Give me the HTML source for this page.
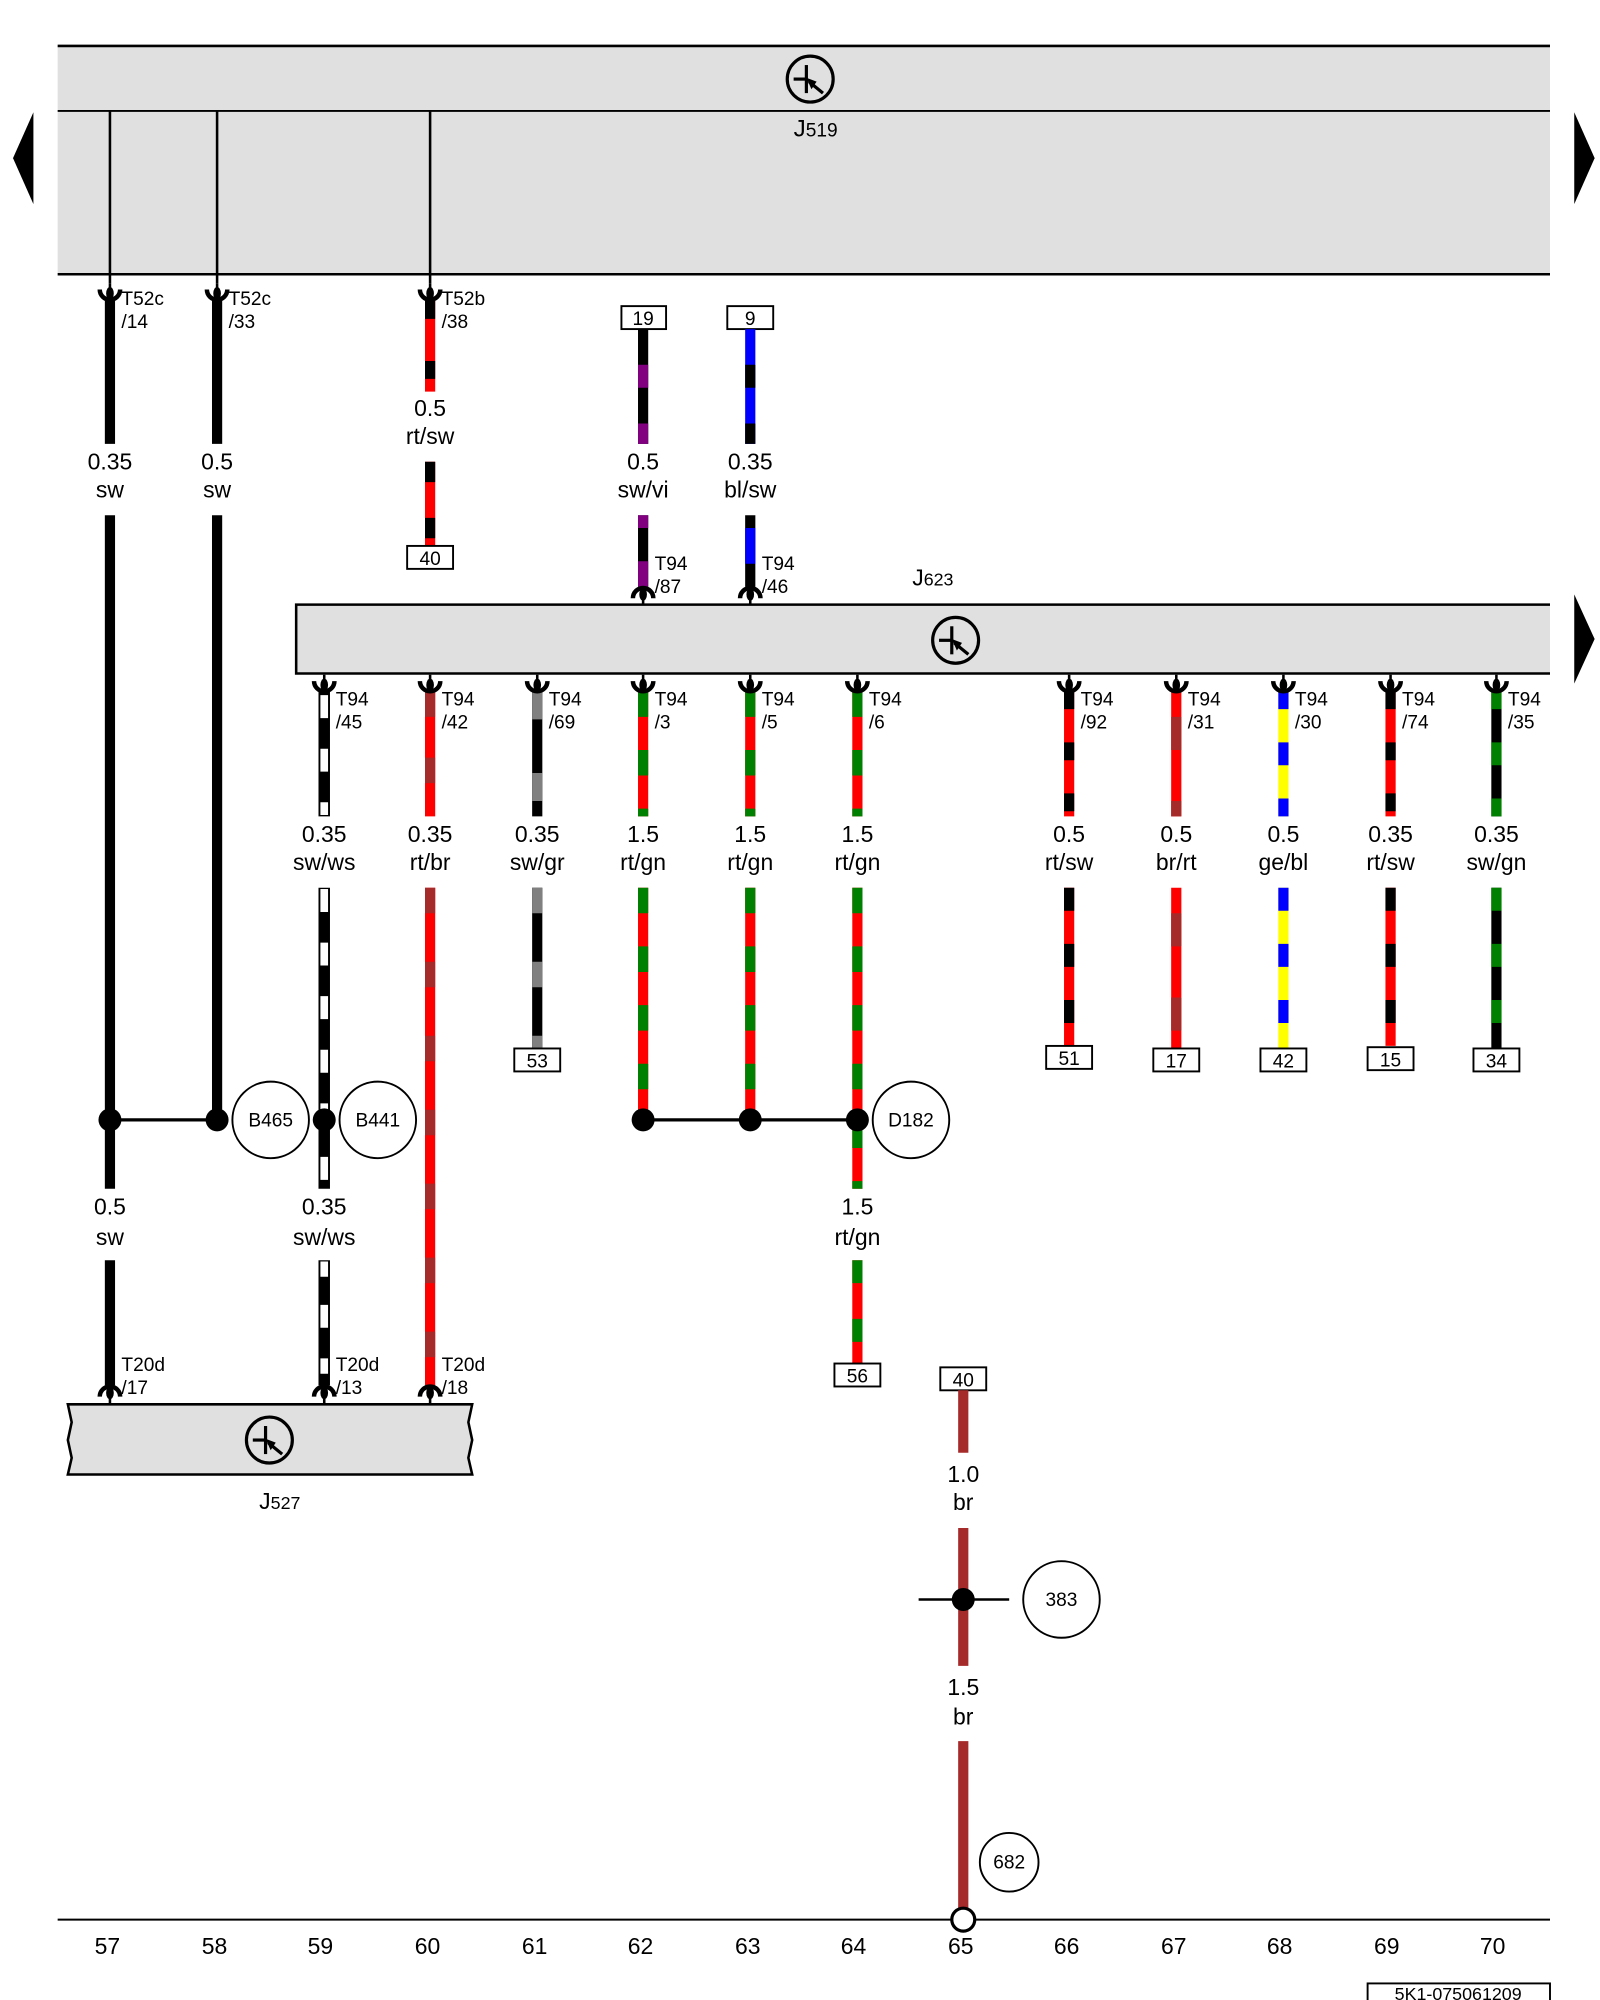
<!DOCTYPE html>
<html><head><meta charset="utf-8"><style>
html,body{margin:0;padding:0;background:#fff;}
svg{display:block;}
text{font-family:"Liberation Sans",sans-serif;fill:#000;}
.lb{font-size:18px;text-anchor:middle;}
.cn{font-size:15px;}
.bx{font-size:15px;text-anchor:middle;}
.cr{font-size:15px;text-anchor:middle;}
.w{stroke-width:8;fill:none;}
.d{stroke-dasharray:20 26;}
</style></head><body>
<svg width="1600" height="2000" viewBox="0 0 1254 1568" xmlns="http://www.w3.org/2000/svg">
<defs>
<g id="sym"><circle cx="0" cy="0" r="18" fill="none" stroke="#000" stroke-width="2.5"/><line x1="-13" y1="0" x2="-3" y2="0" stroke="#000" stroke-width="2.5"/><line x1="-3" y1="-11" x2="-3" y2="11" stroke="#000" stroke-width="2.5"/><line x1="-1" y1="2" x2="10" y2="11" stroke="#000" stroke-width="2.5"/><polygon points="-3,-1 5,2 1,8" fill="#000"/></g>
<g id="cu"><path d="M-8,-9 A8,8 0 0 0 8,-9" fill="none" stroke="#000" stroke-width="3.5"/><ellipse cx="0" cy="-6" rx="3" ry="5" fill="#000"/><rect x="-1" y="-14" width="2" height="6" fill="#000"/></g>
<g id="cd"><path d="M-8,9 A8,8 0 0 1 8,9" fill="none" stroke="#000" stroke-width="3.5"/><ellipse cx="0" cy="6" rx="3" ry="5" fill="#000"/><rect x="-1" y="8" width="2" height="6" fill="#000"/></g>
</defs>

<!-- J519 -->
<rect x="45" y="36" width="1170" height="179" fill="#e0e0e0"/>
<line x1="45" y1="36" x2="1215" y2="36" stroke="#000" stroke-width="2"/>
<line x1="45" y1="87" x2="1215" y2="87" stroke="#000" stroke-width="1.5"/>
<line x1="45" y1="215" x2="1215" y2="215" stroke="#000" stroke-width="2"/>
<use href="#sym" x="635" y="62"/>
<text x="622" y="107" style="font-size:19px">J<tspan style="font-size:15px">519</tspan></text>
<polygon points="26,88 26,160 10,124" fill="#000"/>
<polygon points="1234,88 1234,160 1250,124" fill="#000"/>
<polygon points="1234,466 1234,536 1250,501" fill="#000"/>
<line x1="86" y1="87" x2="86" y2="222" stroke="#000" stroke-width="2"/>
<line x1="170" y1="87" x2="170" y2="222" stroke="#000" stroke-width="2"/>
<line x1="337" y1="87" x2="337" y2="222" stroke="#000" stroke-width="2"/>

<!-- top wires -->
<line class="w" x1="86" y1="233" x2="86" y2="348" stroke="#000"/>
<line class="w" x1="86" y1="404" x2="86" y2="932" stroke="#000"/>
<line class="w" x1="86" y1="988" x2="86" y2="1086" stroke="#000"/>
<line class="w" x1="170" y1="233" x2="170" y2="348" stroke="#000"/>
<line class="w" x1="170" y1="404" x2="170" y2="878" stroke="#000"/>
<use href="#cu" x="86" y="236"/><use href="#cu" x="170" y="236"/><use href="#cu" x="337" y="236"/>
<text class="cn" x="95" y="239">T52c</text><text class="cn" x="95" y="257">/14</text>
<text class="cn" x="179" y="239">T52c</text><text class="cn" x="179" y="257">/33</text>
<text class="cn" x="346" y="239">T52b</text><text class="cn" x="346" y="257">/38</text>
<text class="lb" x="86" y="368">0.35</text><text class="lb" x="86" y="390">sw</text>
<text class="lb" x="170" y="368">0.5</text><text class="lb" x="170" y="390">sw</text>
<text class="lb" x="86" y="952">0.5</text><text class="lb" x="86" y="976">sw</text>

<line class="w" x1="337" y1="236" x2="337" y2="307" stroke="#f00"/>
<line class="w" x1="337" y1="236" x2="337" y2="307" stroke="#000" style="stroke-dasharray:14 33 14 40"/>
<line class="w" x1="337" y1="362" x2="337" y2="428" stroke="#f00"/>
<line class="w" x1="337" y1="362" x2="337" y2="428" stroke="#000" style="stroke-dasharray:16 28"/>
<text class="lb" x="337" y="326">0.5</text><text class="lb" x="337" y="348">rt/sw</text>
<rect x="319" y="428" width="36" height="18" fill="#fff" stroke="#000" stroke-width="1.5"/><text class="bx" x="337" y="443">40</text>

<rect x="487" y="240" width="35" height="18" fill="#fff" stroke="#000" stroke-width="1.5"/><text class="bx" x="504" y="255">19</text>
<line class="w" x1="504" y1="258" x2="504" y2="348" stroke="#000"/>
<line class="w" x1="504" y1="258" x2="504" y2="348" stroke="#800080" style="stroke-dasharray:0 28 18 28 18 40"/>
<line class="w" x1="504" y1="404" x2="504" y2="460" stroke="#000"/>
<line class="w" x1="504" y1="404" x2="504" y2="460" stroke="#800080" style="stroke-dasharray:10 26 20 40"/>
<text class="lb" x="504" y="368">0.5</text><text class="lb" x="504" y="390">sw/vi</text>
<rect x="570" y="240" width="36" height="18" fill="#fff" stroke="#000" stroke-width="1.5"/><text class="bx" x="588" y="255">9</text>
<line class="w" x1="588" y1="258" x2="588" y2="348" stroke="#00f"/>
<line class="w" x1="588" y1="258" x2="588" y2="348" stroke="#000" style="stroke-dasharray:0 28 18 28 18 40"/>
<line class="w" x1="588" y1="404" x2="588" y2="460" stroke="#000"/>
<line class="w" x1="588" y1="404" x2="588" y2="460" stroke="#00f" style="stroke-dasharray:0 10 28 40"/>
<text class="lb" x="588" y="368">0.35</text><text class="lb" x="588" y="390">bl/sw</text>
<use href="#cd" x="504" y="460"/><use href="#cd" x="588" y="460"/>
<text class="cn" x="513" y="447">T94</text><text class="cn" x="513" y="465">/87</text>
<text class="cn" x="597" y="447">T94</text><text class="cn" x="597" y="465">/46</text>
<text x="715" y="459" style="font-size:18px">J<tspan style="font-size:14px">623</tspan></text>

<!-- J623 -->
<rect x="232" y="474" width="983" height="54" fill="#e0e0e0"/>
<path d="M1215,474 H232 V528 H1215" fill="none" stroke="#000" stroke-width="2"/>
<use href="#sym" x="749" y="502"/>

<!-- sw/ws 254 -->
<g stroke="#000">
<line x1="254" y1="542" x2="254" y2="640" stroke-width="9"/>
<line x1="254" y1="696" x2="254" y2="932" stroke-width="9"/>
<line x1="254" y1="988" x2="254" y2="1086" stroke-width="9"/>
</g>
<g stroke="#fff" stroke-width="6" style="stroke-dasharray:18 24">
<line x1="254" y1="545" x2="254" y2="639"/>
<line x1="254" y1="697" x2="254" y2="931"/>
<line x1="254" y1="989" x2="254" y2="1085" style="stroke-dasharray:12 22 18 24"/>
</g>
<!-- rt/br 337 -->
<line class="w" x1="337" y1="542" x2="337" y2="640" stroke="#f00"/>
<line class="w" x1="337" y1="542" x2="337" y2="640" stroke="#a52a2a" style="stroke-dasharray:20 32"/>
<line class="w" x1="337" y1="696" x2="337" y2="1086" stroke="#f00"/>
<line class="w" x1="337" y1="696" x2="337" y2="1086" stroke="#a52a2a" style="stroke-dasharray:20 38"/>
<!-- sw/gr 421 -->
<line class="w" x1="421" y1="542" x2="421" y2="640" stroke="#000"/>
<line class="w" x1="421" y1="542" x2="421" y2="640" stroke="#808080" style="stroke-dasharray:22 42"/>
<line class="w" x1="421" y1="696" x2="421" y2="822" stroke="#000"/>
<line class="w" x1="421" y1="696" x2="421" y2="822" stroke="#808080" style="stroke-dasharray:20 38"/>
<rect x="403" y="822" width="36" height="18" fill="#fff" stroke="#000" stroke-width="1.5"/><text class="bx" x="421" y="837">53</text>
<!-- rt/gn -->
<g class="w">
<line x1="504" y1="542" x2="504" y2="640" stroke="#f00"/><line x1="504" y1="542" x2="504" y2="640" stroke="#008000" class="d"/>
<line x1="504" y1="696" x2="504" y2="878" stroke="#f00"/><line x1="504" y1="696" x2="504" y2="878" stroke="#008000" style="stroke-dasharray:20 26"/>
<line x1="588" y1="542" x2="588" y2="640" stroke="#f00"/><line x1="588" y1="542" x2="588" y2="640" stroke="#008000" class="d"/>
<line x1="588" y1="696" x2="588" y2="878" stroke="#f00"/><line x1="588" y1="696" x2="588" y2="878" stroke="#008000" style="stroke-dasharray:20 26"/>
<line x1="672" y1="542" x2="672" y2="640" stroke="#f00"/><line x1="672" y1="542" x2="672" y2="640" stroke="#008000" class="d"/>
<line x1="672" y1="696" x2="672" y2="932" stroke="#f00"/><line x1="672" y1="696" x2="672" y2="932" stroke="#008000" style="stroke-dasharray:20 26"/>
<line x1="672" y1="988" x2="672" y2="1069" stroke="#f00"/><line x1="672" y1="988" x2="672" y2="1069" stroke="#008000" style="stroke-dasharray:18 28"/>
</g>
<rect x="654" y="1069" width="36" height="18" fill="#fff" stroke="#000" stroke-width="1.5"/><text class="bx" x="672" y="1084">56</text>
<!-- right columns -->
<g class="w">
<line x1="838" y1="542" x2="838" y2="640" stroke="#f00"/><line x1="838" y1="542" x2="838" y2="640" stroke="#000" style="stroke-dasharray:14 26"/>
<line x1="838" y1="696" x2="838" y2="820" stroke="#f00"/><line x1="838" y1="696" x2="838" y2="820" stroke="#000" style="stroke-dasharray:18 26"/>
<line x1="922" y1="542" x2="922" y2="640" stroke="#f00"/><line x1="922" y1="542" x2="922" y2="640" stroke="#a52a2a" style="stroke-dasharray:0 20 26 20"/>
<line x1="922" y1="696" x2="922" y2="822" stroke="#f00"/><line x1="922" y1="696" x2="922" y2="822" stroke="#a52a2a" style="stroke-dasharray:0 20 26 20"/>
<line x1="1006" y1="542" x2="1006" y2="640" stroke="#ff0"/><line x1="1006" y1="542" x2="1006" y2="640" stroke="#00f" style="stroke-dasharray:14 26 18 26"/>
<line x1="1006" y1="696" x2="1006" y2="822" stroke="#ff0"/><line x1="1006" y1="696" x2="1006" y2="822" stroke="#00f" style="stroke-dasharray:18 26"/>
<line x1="1090" y1="542" x2="1090" y2="640" stroke="#f00"/><line x1="1090" y1="542" x2="1090" y2="640" stroke="#000" style="stroke-dasharray:14 26"/>
<line x1="1090" y1="696" x2="1090" y2="820" stroke="#f00"/><line x1="1090" y1="696" x2="1090" y2="820" stroke="#000" style="stroke-dasharray:18 26"/>
<line x1="1173" y1="542" x2="1173" y2="640" stroke="#000"/><line x1="1173" y1="542" x2="1173" y2="640" stroke="#008000" style="stroke-dasharray:14 26 18 26"/>
<line x1="1173" y1="696" x2="1173" y2="822" stroke="#000"/><line x1="1173" y1="696" x2="1173" y2="822" stroke="#008000" style="stroke-dasharray:18 26"/>
</g>

<!-- bottom J623 connectors -->
<g>
<use href="#cu" x="254" y="543"/><use href="#cu" x="337" y="543"/><use href="#cu" x="421" y="543"/><use href="#cu" x="504" y="543"/><use href="#cu" x="588" y="543"/><use href="#cu" x="672" y="543"/><use href="#cu" x="838" y="543"/><use href="#cu" x="922" y="543"/><use href="#cu" x="1006" y="543"/><use href="#cu" x="1090" y="543"/><use href="#cu" x="1173" y="543"/>
</g>
<text class="cn" x="263" y="553">T94</text><text class="cn" x="263" y="571">/45</text>
<text class="cn" x="346" y="553">T94</text><text class="cn" x="346" y="571">/42</text>
<text class="cn" x="430" y="553">T94</text><text class="cn" x="430" y="571">/69</text>
<text class="cn" x="513" y="553">T94</text><text class="cn" x="513" y="571">/3</text>
<text class="cn" x="597" y="553">T94</text><text class="cn" x="597" y="571">/5</text>
<text class="cn" x="681" y="553">T94</text><text class="cn" x="681" y="571">/6</text>
<text class="cn" x="847" y="553">T94</text><text class="cn" x="847" y="571">/92</text>
<text class="cn" x="931" y="553">T94</text><text class="cn" x="931" y="571">/31</text>
<text class="cn" x="1015" y="553">T94</text><text class="cn" x="1015" y="571">/30</text>
<text class="cn" x="1099" y="553">T94</text><text class="cn" x="1099" y="571">/74</text>
<text class="cn" x="1182" y="553">T94</text><text class="cn" x="1182" y="571">/35</text>
<!-- labels -->
<text class="lb" x="254" y="660">0.35</text><text class="lb" x="254" y="682">sw/ws</text>
<text class="lb" x="337" y="660">0.35</text><text class="lb" x="337" y="682">rt/br</text>
<text class="lb" x="421" y="660">0.35</text><text class="lb" x="421" y="682">sw/gr</text>
<text class="lb" x="504" y="660">1.5</text><text class="lb" x="504" y="682">rt/gn</text>
<text class="lb" x="588" y="660">1.5</text><text class="lb" x="588" y="682">rt/gn</text>
<text class="lb" x="672" y="660">1.5</text><text class="lb" x="672" y="682">rt/gn</text>
<text class="lb" x="838" y="660">0.5</text><text class="lb" x="838" y="682">rt/sw</text>
<text class="lb" x="922" y="660">0.5</text><text class="lb" x="922" y="682">br/rt</text>
<text class="lb" x="1006" y="660">0.5</text><text class="lb" x="1006" y="682">ge/bl</text>
<text class="lb" x="1090" y="660">0.35</text><text class="lb" x="1090" y="682">rt/sw</text>
<text class="lb" x="1173" y="660">0.35</text><text class="lb" x="1173" y="682">sw/gn</text>
<text class="lb" x="254" y="952">0.35</text><text class="lb" x="254" y="976">sw/ws</text>
<text class="lb" x="672" y="952">1.5</text><text class="lb" x="672" y="976">rt/gn</text>

<g fill="#fff" stroke="#000" stroke-width="1.5">
<rect x="820" y="820" width="36" height="18"/><rect x="904" y="822" width="36" height="18"/><rect x="988" y="822" width="36" height="18"/><rect x="1072" y="821" width="36" height="18"/><rect x="1155" y="822" width="36" height="18"/>
</g>
<text class="bx" x="838" y="835">51</text><text class="bx" x="922" y="837">17</text><text class="bx" x="1006" y="837">42</text><text class="bx" x="1090" y="836">15</text><text class="bx" x="1173" y="837">34</text>

<!-- junctions -->
<line x1="86" y1="878" x2="170" y2="878" stroke="#000" stroke-width="2.5"/>
<line x1="504" y1="878" x2="672" y2="878" stroke="#000" stroke-width="2.5"/>
<g fill="#000"><circle cx="86" cy="878" r="9"/><circle cx="170" cy="878" r="9"/><circle cx="254" cy="878" r="9"/><circle cx="504" cy="878" r="9"/><circle cx="588" cy="878" r="9"/><circle cx="672" cy="878" r="9"/></g>
<g fill="#fff" stroke="#000" stroke-width="1.5">
<circle cx="212" cy="878" r="30"/><circle cx="296" cy="878" r="30"/><circle cx="714" cy="878" r="30"/>
</g>
<text class="cr" x="212" y="883">B465</text><text class="cr" x="296" y="883">B441</text><text class="cr" x="714" y="883">D182</text>

<!-- J527 -->
<use href="#cd" x="86" y="1086"/><use href="#cd" x="254" y="1086"/><use href="#cd" x="337" y="1086"/>
<text class="cn" x="95" y="1075">T20d</text><text class="cn" x="95" y="1093">/17</text>
<text class="cn" x="263" y="1075">T20d</text><text class="cn" x="263" y="1093">/13</text>
<text class="cn" x="346" y="1075">T20d</text><text class="cn" x="346" y="1093">/18</text>
<path d="M53,1101 H370 L367,1115 L370,1129 L367,1143 L370,1156 H53 L56,1143 L53,1129 L56,1115 Z" fill="#e0e0e0" stroke="#000" stroke-width="2"/>
<use href="#sym" x="211" y="1129"/>
<text x="203" y="1183" style="font-size:18px">J<tspan style="font-size:14px">527</tspan></text>

<!-- brown wire 65 -->
<rect x="737" y="1072" width="36" height="18" fill="#fff" stroke="#000" stroke-width="1.5"/><text class="bx" x="755" y="1087">40</text>
<g stroke="#a52a2a" class="w">
<line x1="755" y1="1090" x2="755" y2="1139"/>
<line x1="755" y1="1198" x2="755" y2="1306"/>
<line x1="755" y1="1365" x2="755" y2="1497"/>
</g>
<text class="lb" x="755" y="1162">1.0</text><text class="lb" x="755" y="1184">br</text>
<text class="lb" x="755" y="1329">1.5</text><text class="lb" x="755" y="1352">br</text>
<line x1="720" y1="1254" x2="791" y2="1254" stroke="#000" stroke-width="2"/>
<circle cx="755" cy="1254" r="9" fill="#000"/>
<circle cx="832" cy="1254" r="30" fill="#fff" stroke="#000" stroke-width="1.5"/><text class="cr" x="832" y="1259">383</text>
<circle cx="791" cy="1460" r="23" fill="#fff" stroke="#000" stroke-width="1.5"/><text class="cr" x="791" y="1465">682</text>

<!-- bottom rail -->
<line x1="45" y1="1505" x2="1215" y2="1505" stroke="#000" stroke-width="1.5"/>
<circle cx="755" cy="1505" r="9" fill="#fff" stroke="#000" stroke-width="2.5"/>
<text class="lb" x="84" y="1532">57</text><text class="lb" x="168" y="1532">58</text><text class="lb" x="251" y="1532">59</text><text class="lb" x="335" y="1532">60</text><text class="lb" x="419" y="1532">61</text><text class="lb" x="502" y="1532">62</text><text class="lb" x="586" y="1532">63</text><text class="lb" x="669" y="1532">64</text><text class="lb" x="753" y="1532">65</text><text class="lb" x="836" y="1532">66</text><text class="lb" x="920" y="1532">67</text><text class="lb" x="1003" y="1532">68</text><text class="lb" x="1087" y="1532">69</text><text class="lb" x="1170" y="1532">70</text>
<rect x="1072" y="1555" width="143" height="20" fill="#fff" stroke="#000" stroke-width="1.5"/>
<text x="1143" y="1568" style="font-size:14px;text-anchor:middle">5K1-075061209</text>
</svg>
</body></html>
